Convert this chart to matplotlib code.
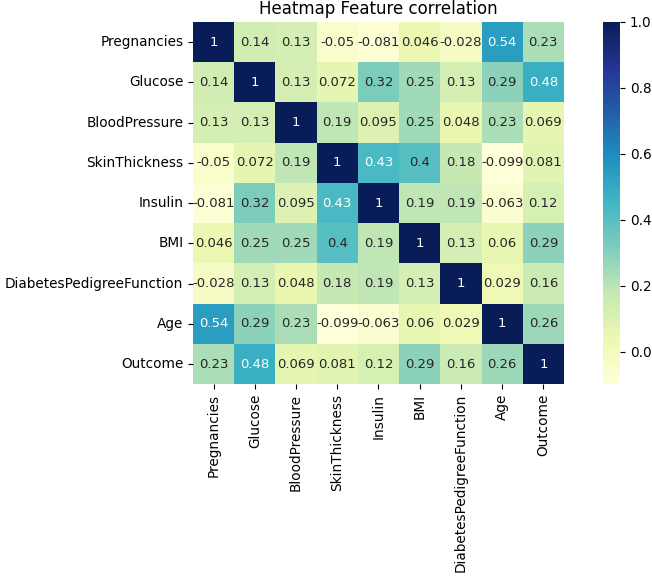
import numpy as np
import pandas as pd
import matplotlib
matplotlib.use("Agg")
import matplotlib.pyplot as plt
import seaborn as sns

# Kolonnenavn og korrelasjonsverdier lest av figuren
features = ["Pregnancies", "Glucose", "BloodPressure", "SkinThickness", "Insulin",
            "BMI", "DiabetesPedigreeFunction", "Age", "Outcome"]

r_preg = [1, 0.14, 0.13, -0.05, -0.081, 0.046, -0.028, 0.54, 0.23]
r_gluc = [0.14, 1, 0.13, 0.072, 0.32, 0.25, 0.13, 0.29, 0.48]
r_bp = [0.13, 0.13, 1, 0.19, 0.095, 0.25, 0.048, 0.23, 0.069]
r_skin = [-0.05, 0.072, 0.19, 1, 0.43, 0.4, 0.18, -0.099, 0.081]
r_ins = [-0.081, 0.32, 0.095, 0.43, 1, 0.19, 0.19, -0.063, 0.12]
r_bmi = [0.046, 0.25, 0.25, 0.4, 0.19, 1, 0.13, 0.06, 0.29]
r_dpf = [-0.028, 0.13, 0.048, 0.18, 0.19, 0.13, 1, 0.029, 0.16]
r_age = [0.54, 0.29, 0.23, -0.099, -0.063, 0.06, 0.029, 1, 0.26]
r_out = [0.23, 0.48, 0.069, 0.081, 0.12, 0.29, 0.16, 0.26, 1]

corr = pd.DataFrame([r_preg, r_gluc, r_bp, r_skin, r_ins, r_bmi, r_dpf, r_age, r_out],
                    index=features, columns=features)

fig = plt.figure(figsize=(6.52, 5.76), dpi=100)
ax = fig.add_axes([0.296, 0.333, 0.569, 0.629])
cax = fig.add_axes([0.925, 0.333, 0.026, 0.629])

sns.heatmap(corr, annot=True, cmap="YlGnBu", ax=ax, cbar_ax=cax,
            annot_kws={"fontsize": 9.5})
ax.set_title("Heatmap Feature correlation", fontsize=12)
ax.tick_params(labelsize=9.8)
cax.tick_params(labelsize=9.8)

fig.savefig("out.png", dpi=100)
